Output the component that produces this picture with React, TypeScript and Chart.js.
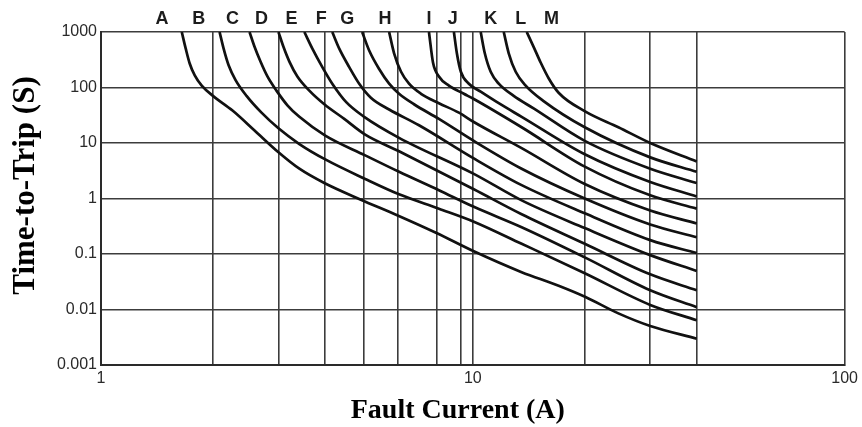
import React, { useEffect, useRef } from 'react';
import { Chart, registerables } from 'chart.js';

Chart.register(...registerables);

// Curve names and the fault current at which each name is printed above the plot
const curveLabels = ['A', 'B', 'C', 'D', 'E', 'F', 'G', 'H', 'I', 'J', 'K', 'L', 'M'];
const labelCurrents = [1.458, 1.831, 2.258, 2.702, 3.252, 3.913, 4.594, 5.809, 7.621, 8.838, 11.17, 13.45, 16.28];

// Fault current (A) / time-to-trip (s) for each curve
const aCurrent = [1.649, 1.69, 1.732, 1.787, 1.866, 2.0, 2.258, 2.588, 3.001, 3.416, 3.986, 4.98, 6.257, 7.958, 10.06, 13.53, 17.01, 20.09, 24.63, 30, 40];
const aTime = [1000, 501, 271, 165, 108, 70.6, 38.4, 16.8, 6.81, 3.44, 1.9, 0.962, 0.501, 0.242, 0.112, 0.0471, 0.0268, 0.0168, 0.00851, 0.00504, 0.00298];

const bCurrent = [2.084, 2.137, 2.204, 2.301, 2.463, 2.702, 3.001, 3.416, 4.01, 5.135, 6.333, 8.106, 10.06, 13.53, 20, 30, 40];
const bTime = [1000, 501, 251, 136, 70.6, 35.2, 18.4, 9.58, 5.06, 2.25, 1.19, 0.656, 0.383, 0.153, 0.045, 0.0121, 0.00641];

const cCurrent = [2.509, 2.588, 2.685, 2.803, 2.964, 3.172, 3.416, 4.01, 5.135, 6.333, 8.106, 10.06, 13.53, 20, 30, 40];
const cTime = [1000, 541, 293, 158, 87.8, 47.8, 29.6, 13.6, 5.99, 3.03, 1.41, 0.708, 0.304, 0.0869, 0.0222, 0.011];

const dCurrent = [3.001, 3.095, 3.211, 3.374, 3.633, 3.986, 4.51, 5.135, 6.333, 10.06, 13.53, 20, 30, 40];
const dTime = [1000, 541, 293, 158, 87.8, 49.9, 27.2, 14.2, 7.11, 1.47, 0.521, 0.153, 0.043, 0.0222];

const eCurrent = [3.523, 3.702, 3.938, 4.188, 4.566, 5.103, 6.333, 10.06, 13.53, 20, 30, 40];
const eTime = [1000, 501, 233, 117, 54.4, 29.6, 12.4, 2.78, 0.926, 0.293, 0.0954, 0.0494];

const fCurrent = [4.188, 4.373, 4.652, 4.948, 5.327, 5.955, 7.165, 10.06, 13.53, 20, 30, 40];
const fTime = [1000, 501, 233, 117, 64.8, 40.2, 20.9, 5.27, 1.74, 0.541, 0.178, 0.104];

const gCurrent = [5.04, 5.263, 5.598, 5.955, 6.333, 6.947, 8.106, 10.06, 13.53, 20, 30, 40];
const gTime = [1000, 464, 215, 117, 77.1, 49.9, 27.2, 10.9, 3.44, 1, 0.341, 0.2];

const hCurrent = [5.955, 6.141, 6.412, 6.736, 7.255, 8.106, 9.173, 10.06, 13.53, 20, 30, 40];
const hTime = [1000, 414, 192, 117, 77.1, 52.1, 35.2, 23.9, 8.07, 1.82, 0.607, 0.355];

const iCurrent = [7.621, 7.814, 8.106, 8.623, 9.459, 10.06, 13.53, 20, 30, 40];
const iTime = [1000, 282, 158, 108, 77.1, 62.0, 19.2, 3.75, 1.14, 0.656];

const jCurrent = [8.894, 9.059, 9.285, 9.757, 10.5, 11.74, 13.53, 20, 30, 40];
const jTime = [1000, 414, 192, 117, 84.1, 52.1, 29.6, 6.26, 1.98, 1.09];

const kCurrent = [10.5, 10.77, 11.17, 11.74, 12.88, 14.57, 20, 30, 40];
const kTime = [1000, 414, 192, 117, 70.6, 42.0, 10.9, 3.44, 1.9];

const lCurrent = [12.11, 12.49, 13.04, 13.87, 15.5, 20, 30, 40];
const lTime = [1000, 414, 192, 108, 56.9, 19.2, 5.51, 3.03];

const mCurrent = [13.96, 14.57, 15.22, 15.99, 17.01, 20.09, 24.63, 30, 40];
const mTime = [1000, 541, 282, 147, 80.5, 36.8, 19.2, 10, 4.64];

// Axes
const xGridValues = [1, 2, 3, 4, 5.1, 6.3, 8, 9.3, 10, 20, 30, 40, 100];
const xLabelValues = [1, 10, 100];
const yTickValues = [0.001, 0.01, 0.1, 1, 10, 100, 1000];
const yTickLabels = ['0.001', '0.01', '0.1', '1', '10', '100', '1000'];
const xTitle = 'Fault Current (A)';
const yTitle = 'Time-to-Trip (S)';

export default function App() {
  const ref = useRef<HTMLCanvasElement>(null);

  useEffect(() => {
    const canvas = ref.current;
    if (!canvas) return;
    const series: [number[], number[]][] = [
      [aCurrent, aTime], [bCurrent, bTime], [cCurrent, cTime], [dCurrent, dTime],
      [eCurrent, eTime], [fCurrent, fTime], [gCurrent, gTime], [hCurrent, hTime],
      [iCurrent, iTime], [jCurrent, jTime], [kCurrent, kTime], [lCurrent, lTime],
      [mCurrent, mTime],
    ];
    const datasets = series.map(([xs, ys], i) => ({
      label: curveLabels[i],
      data: xs.map((x, j) => ({ x, y: ys[j] })),
      borderColor: '#111111',
      borderWidth: 2.7,
      pointRadius: 0,
      fill: false,
      cubicInterpolationMode: 'monotone' as const,
    }));

    const overlay = {
      id: 'overlay',
      afterDraw(chart: any) {
        const ctx = chart.ctx as CanvasRenderingContext2D;
        const xs = chart.scales.x;
        const area = chart.chartArea;
        ctx.save();
        ctx.fillStyle = '#1c1c1c';
        ctx.font = 'bold 18px "Liberation Sans", Arial, sans-serif';
        ctx.textAlign = 'center';
        ctx.textBaseline = 'middle';
        curveLabels.forEach((t, i) => {
          ctx.fillText(t, xs.getPixelForValue(labelCurrents[i]), area.top - 13);
        });
        ctx.fillStyle = '#000';
        ctx.textBaseline = 'alphabetic';
        ctx.font = 'bold 28px "Liberation Serif", "Times New Roman", serif';
        ctx.fillText(xTitle, (area.left + area.right) / 2 - 15, 418);
        ctx.translate(34, (area.top + area.bottom) / 2 - 13);
        ctx.rotate(-Math.PI / 2);
        ctx.font = 'bold 31px "Liberation Serif", "Times New Roman", serif';
        ctx.fillText(yTitle, 0, 0);
        ctx.restore();
      },
    };

    const tickFont = { family: '"Liberation Sans", Arial, sans-serif', size: 16 };
    const chart = new Chart(canvas, {
      type: 'line',
      data: { datasets },
      options: {
        animation: false,
        responsive: false,
        layout: { padding: { left: 0, top: 32, right: 15, bottom: 0 } },
        plugins: { legend: { display: false }, tooltip: { enabled: false } },
        scales: {
          x: {
            type: 'logarithmic',
            min: 1,
            max: 100,
            afterBuildTicks: (s: any) => {
              s.ticks = xGridValues.map((v) => ({ value: v }));
            },
            afterFit: (s: any) => {
              s.height = 62;
            },
            ticks: {
              autoSkip: false,
              maxRotation: 0,
              minRotation: 0,
              padding: 4,
              color: '#2a2a2a',
              font: tickFont,
              callback: (v: any) => (xLabelValues.includes(Number(v)) ? String(v) : ''),
            },
            grid: { color: '#3c3c3c', lineWidth: 1.6, drawTicks: false },
            border: { color: '#2a2a2a', width: 2 },
          },
          y: {
            type: 'logarithmic',
            min: 0.001,
            max: 1000,
            afterBuildTicks: (s: any) => {
              s.ticks = yTickValues.map((v) => ({ value: v }));
            },
            afterFit: (s: any) => {
              s.width = 101;
            },
            ticks: {
              autoSkip: false,
              padding: 4,
              color: '#2a2a2a',
              font: tickFont,
              callback: (v: any) => {
                const k = yTickValues.findIndex((t) => Math.abs(t - Number(v)) < t * 1e-6);
                return k >= 0 ? yTickLabels[k] : '';
              },
            },
            grid: { color: '#3c3c3c', lineWidth: 1.6, drawTicks: false },
            border: { color: '#2a2a2a', width: 2 },
          },
        },
      } as any,
      plugins: [overlay],
    });
    return () => chart.destroy();
  }, []);

  return (
    <div style={{ position: 'absolute', left: 0, top: 0, width: 862, height: 427, background: '#fff' }}>
      <canvas ref={ref} width={862} height={427} style={{ display: 'block' }} />
    </div>
  );
}
